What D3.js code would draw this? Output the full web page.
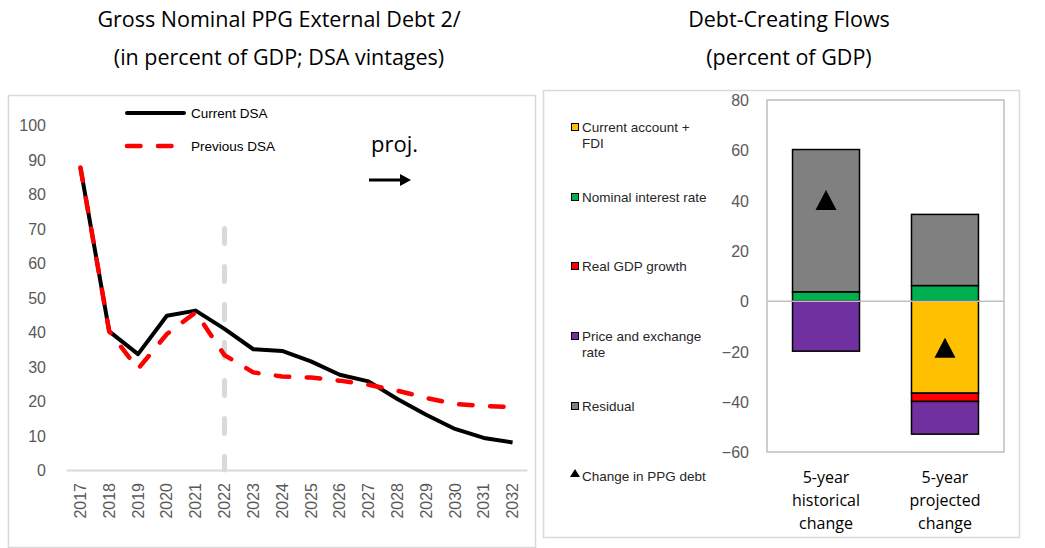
<!DOCTYPE html>
<html>
<head>
<meta charset="utf-8">
<script src="https://cdn.jsdelivr.net/npm/d3@7"></script>
<style>
  html, body { margin: 0; padding: 0; background: #fff; }
  svg { display: block; }
</style>
</head>
<body>
<svg id="chart" width="1045" height="548"></svg>
<script>
// ---------- Data ----------
const years = ["2017","2018","2019","2020","2021","2022","2023","2024","2025","2026","2027","2028","2029","2030","2031","2032"];
const currentDSA  = [87.7, 40.2, 33.6, 44.7, 46.2, 40.9, 35.0, 34.5, 31.5, 27.6, 25.7, 20.6, 16.0, 11.9, 9.3, 8.0];
const previousDSA = [87.7, 40.2, 29.3, 39.4, 45.7, 33.3, 28.3, 27.1, 26.8, 25.9, 24.7, 23.0, 20.9, 19.1, 18.6, 18.2];
const leftTicks = [0, 10, 20, 30, 40, 50, 60, 70, 80, 90, 100];
const projYear = "2022";
const projLineTop = 70;

const flowCategories = ["5-year historical change", "5-year projected change"];
const flowCategoryLines = [["5-year", "historical", "change"], ["5-year", "projected", "change"]];
const flowKeys = ["Current account + FDI", "Nominal interest rate", "Real GDP growth", "Price and exchange rate", "Residual"];
const currentAccountFDI = [0, -36.6];
const nominalInterest   = [3.7, 6.2];
const realGDPGrowth     = [0, -3.3];
const priceExchange     = [-19.9, -13.0];
const residual          = [56.6, 28.3];
const changePPGDebt     = [40.2, -18.5];
const rightTicks = [-60, -40, -20, 0, 20, 40, 60, 80];
const flowColors = ["#FFC000", "#00B050", "#FF0000", "#7030A0", "#808080"];
const legendLines = [["Current account +", "FDI"], ["Nominal interest rate"], ["Real GDP growth"], ["Price and exchange", "rate"], ["Residual"]];

// ---------- Setup ----------
const svg = d3.select("#chart");
const titleFont = "'Open Sans', 'Noto Sans', sans-serif";
const axisFont = "'Liberation Sans', Arial, sans-serif";

// ---------- LEFT CHART ----------
svg.append("rect").attr("x", 8.5).attr("y", 95.5).attr("width", 527).attr("height", 452)
  .attr("fill", "#fff").attr("stroke", "#d9d9d9").attr("stroke-width", 1.5);

const titleL = svg.append("g").attr("font-family", titleFont).attr("font-size", 21.5).attr("fill", "#000").attr("text-anchor", "middle");
titleL.append("text").attr("x", 279).attr("y", 27).text("Gross Nominal PPG External Debt 2/");
titleL.append("text").attr("x", 279).attr("y", 65).text("(in percent of GDP; DSA vintages)");

const xL = d3.scaleBand().domain(years).range([66, 527]);
const yL = d3.scaleLinear().domain([0, 100]).range([470, 125]);

// y labels
const yAxisL = d3.axisLeft(yL).tickValues(leftTicks).tickSize(0).tickPadding(0);
const gy = svg.append("g").attr("transform", "translate(46,0)").call(yAxisL);
gy.select(".domain").remove();
gy.selectAll("text").attr("font-family", axisFont).attr("font-size", 16).attr("fill", "#595959").attr("dy", "0.35em");

// x axis
const xAxisL = d3.axisBottom(xL).tickSize(0).tickPadding(0);
const gx = svg.append("g").attr("transform", "translate(0,470)").call(xAxisL);
gx.select(".domain").attr("stroke", "#d9d9d9").attr("stroke-width", 2);
gx.selectAll("text")
  .attr("font-family", axisFont).attr("font-size", 16).attr("fill", "#595959")
  .attr("text-anchor", "end")
  .attr("transform", "rotate(-90)")
  .attr("x", -13).attr("y", 0).attr("dy", "0.35em");

// projection vertical dashed line
svg.append("line")
  .attr("x1", xL(projYear) + xL.bandwidth() / 2).attr("x2", xL(projYear) + xL.bandwidth() / 2)
  .attr("y1", yL(projLineTop)).attr("y2", yL(0))
  .attr("stroke", "#d9d9d9").attr("stroke-width", 5).attr("stroke-dasharray", "15,23").attr("stroke-linecap", "round");

const lineGen = d3.line().x((d, i) => xL(years[i]) + xL.bandwidth() / 2).y(d => yL(d));
svg.append("path").datum(currentDSA).attr("d", lineGen)
  .attr("fill", "none").attr("stroke", "#000").attr("stroke-width", 4).attr("stroke-linejoin", "round");
svg.append("path").datum(previousDSA).attr("d", lineGen)
  .attr("fill", "none").attr("stroke", "#FF0000").attr("stroke-width", 4.5)
  .attr("stroke-dasharray", "13.5,17.5").attr("stroke-linecap", "round");

// legend
const legL = svg.append("g").attr("font-family", axisFont).attr("font-size", 13.5).attr("fill", "#000");
legL.append("line").attr("x1", 127).attr("x2", 184).attr("y1", 113).attr("y2", 113)
  .attr("stroke", "#000").attr("stroke-width", 4).attr("stroke-linecap", "round");
legL.append("text").attr("x", 191).attr("y", 113).attr("dy", "0.35em").text("Current DSA");
legL.append("line").attr("x1", 127).attr("x2", 176).attr("y1", 146).attr("y2", 146)
  .attr("stroke", "#FF0000").attr("stroke-width", 4.5).attr("stroke-dasharray", "13.5,17.5").attr("stroke-linecap", "round");
legL.append("text").attr("x", 191).attr("y", 146).attr("dy", "0.35em").text("Previous DSA");

// proj. annotation
svg.append("text").attr("x", 371).attr("y", 152).attr("font-family", titleFont).attr("font-size", 22).attr("fill", "#000").text("proj.");
svg.append("line").attr("x1", 369).attr("x2", 402).attr("y1", 180).attr("y2", 180).attr("stroke", "#000").attr("stroke-width", 3);
svg.append("path").attr("d", "M400,174 L411,180 L400,186 Z").attr("fill", "#000");

// ---------- RIGHT CHART ----------
svg.append("rect").attr("x", 543.5).attr("y", 90.5).attr("width", 476).attr("height", 447)
  .attr("fill", "#fff").attr("stroke", "#d9d9d9").attr("stroke-width", 1.5);

const titleR = svg.append("g").attr("font-family", titleFont).attr("font-size", 21.5).attr("fill", "#000").attr("text-anchor", "middle");
titleR.append("text").attr("x", 789).attr("y", 27).text("Debt-Creating Flows");
titleR.append("text").attr("x", 789).attr("y", 65).text("(percent of GDP)");

const xR = d3.scaleBand().domain(flowCategories).range([767, 1004]).paddingInner(0.437).paddingOuter(0.2145);
const yR = d3.scaleLinear().domain([-60, 80]).range([452, 100]);

// plot border
svg.append("rect").attr("x", 767).attr("y", 100).attr("width", 237).attr("height", 352)
  .attr("fill", "none").attr("stroke", "#bfbfbf").attr("stroke-width", 1.5);

const yAxisR = d3.axisLeft(yR).tickValues(rightTicks).tickSize(0).tickPadding(0);
const gyr = svg.append("g").attr("transform", "translate(749,0)").call(yAxisR);
gyr.select(".domain").remove();
gyr.selectAll("text").attr("font-family", axisFont).attr("font-size", 16).attr("fill", "#595959").attr("dy", "0.35em");

// stacked bars
const series = [currentAccountFDI, nominalInterest, realGDPGrowth, priceExchange, residual];
const rows = flowCategories.map((c, i) => {
  const o = { cat: c };
  flowKeys.forEach((k, j) => { o[k] = series[j][i]; });
  return o;
});
const stacked = d3.stack().keys(flowKeys).offset(d3.stackOffsetDiverging)(rows);

stacked.forEach((s, j) => {
  svg.append("g").selectAll("rect").data(s.filter(d => Math.abs(d[1] - d[0]) > 0.001)).join("rect")
    .attr("x", d => xR(d.data.cat))
    .attr("width", xR.bandwidth())
    .attr("y", d => yR(Math.max(d[0], d[1])))
    .attr("height", d => Math.abs(yR(d[0]) - yR(d[1])))
    .attr("fill", flowColors[j])
    .attr("stroke", "#000").attr("stroke-width", 1.5);
});

// zero line
svg.append("line").attr("x1", 767).attr("x2", 1004).attr("y1", yR(0)).attr("y2", yR(0))
  .attr("stroke", "#bfbfbf").attr("stroke-width", 1.5);

// triangles
const tri = "M0,-10 L10.5,10 L-10.5,10 Z";
svg.append("g").selectAll("path").data(changePPGDebt).join("path")
  .attr("d", tri)
  .attr("transform", (d, i) => `translate(${xR(flowCategories[i]) + xR.bandwidth() / 2},${yR(d)})`)
  .attr("fill", "#000");

// category labels
flowCategories.forEach((c, i) => {
  const t = svg.append("text").attr("font-family", titleFont).attr("font-size", 16).attr("fill", "#000")
    .attr("text-anchor", "middle");
  flowCategoryLines[i].forEach((ln, k) => {
    t.append("tspan").attr("x", xR(c) + xR.bandwidth() / 2).attr("y", 483 + k * 23).text(ln);
  });
});

// legend
const legendY = [127, 197, 266, 336, 406];
const legR = svg.append("g").attr("font-family", axisFont).attr("font-size", 13.5).attr("fill", "#262626");
flowKeys.forEach((k, j) => {
  legR.append("rect").attr("x", 571.5).attr("y", legendY[j] - 3.5).attr("width", 7).attr("height", 7)
    .attr("fill", flowColors[j]).attr("stroke", "#000").attr("stroke-width", 1);
  const t = legR.append("text");
  legendLines[j].forEach((ln, m) => {
    t.append("tspan").attr("x", 582).attr("y", legendY[j] + m * 16).attr("dy", "0.35em").text(ln);
  });
});
legR.append("path").attr("d", "M575,469 L580,477 L570,477 Z").attr("fill", "#000");
legR.append("text").attr("x", 582).attr("y", 476).attr("dy", "0.35em").text("Change in PPG debt");
</script>
</body>
</html>
